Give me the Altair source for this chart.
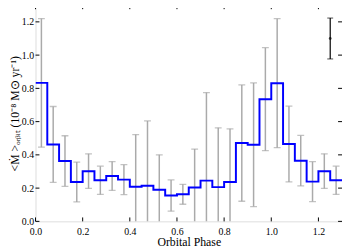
import altair as alt
import pandas as pd

# bin left edges (width 0.05) and bin centres
bin_left = [0.00, 0.05, 0.10, 0.15, 0.20, 0.25, 0.30, 0.35, 0.40, 0.45, 0.50, 0.55, 0.60,
            0.65, 0.70, 0.75, 0.80, 0.85, 0.90, 0.95, 1.00, 1.05, 1.10, 1.15, 1.20, 1.25]
bin_center = [0.025, 0.075, 0.125, 0.175, 0.225, 0.275, 0.325, 0.375, 0.425, 0.475, 0.525,
              0.575, 0.625, 0.675, 0.725, 0.775, 0.825, 0.875, 0.925, 0.975, 1.025, 1.075,
              1.125, 1.175, 1.225, 1.275]
mdot = [0.833, 0.463, 0.363, 0.237, 0.302, 0.247, 0.273, 0.251, 0.208, 0.214, 0.190, 0.155,
        0.163, 0.204, 0.245, 0.206, 0.237, 0.471, 0.461, 0.735, 0.831, 0.465, 0.365, 0.239,
        0.302, 0.247]
err = [0.387, 0.228, 0.152, 0.120, 0.104, 0.085, 0.087, 0.090, 0.314, 0.390, 0.210, 0.094,
       0.060, 0.231, 0.530, 0.357, 0.320, 0.350, 0.372, 0.310, 0.388, 0.228, 0.152, 0.120,
       0.104, 0.085]
x_end = 1.30

# typical error marker
typ_x = [1.25]
typ_y = [1.10]
typ_err = [0.123]

x_ticks = [0.0, 0.2, 0.4, 0.6, 0.8, 1.0, 1.2]
y_ticks = [0.0, 0.2, 0.4, 0.6, 0.8, 1.0, 1.2]

W, H = 312, 220
FONT = "Liberation Serif"

step_df = pd.DataFrame({"x": bin_left + [x_end], "y": mdot + [mdot[-1]]})
err_df = pd.DataFrame({
    "x": bin_center,
    "lo": [m - e for m, e in zip(mdot, err)],
    "hi": [m + e for m, e in zip(mdot, err)],
})
typ_df = pd.DataFrame({
    "x": typ_x, "y": typ_y,
    "lo": [a - b for a, b in zip(typ_y, typ_err)],
    "hi": [a + b for a, b in zip(typ_y, typ_err)],
})
xt_df = pd.DataFrame({"v": x_ticks})
yt_df = pd.DataFrame({"v": y_ticks})

xs = alt.Scale(domain=[0, 1.3], nice=False, zero=False)
ys = alt.Scale(domain=[0, 1.3], nice=False, zero=False)

xaxis = alt.Axis(values=x_ticks, format=".1f", tickSize=0, labelPadding=5,
                 labelOverlap=False, labelFlush=False,
                 title="Orbital Phase", titleFontSize=12, titleFontWeight="normal",
                 titlePadding=1, labelFontSize=10, grid=False, domain=False)
yaxis = alt.Axis(values=y_ticks, format=".1f", tickSize=0, labelPadding=2,
                 labelOverlap=False, labelFlush=False,
                 title="<Ṁ >ₒᵣᵦᵢₜ (10⁻⁸ M⊙ yr⁻¹)", titleFontSize=12,
                 titleFontWeight="normal", titlePadding=0, labelFontSize=10,
                 grid=False, domain=False)

err_color = "#aaaaaa"

def X(f):
    return alt.X(f, scale=xs, axis=xaxis)

def Y(f):
    return alt.Y(f, scale=ys, axis=yaxis)

bars = alt.Chart(err_df).mark_rule(color=err_color, strokeWidth=1.5, clip=True).encode(
    x=X("x:Q"), y=Y("lo:Q"), y2="hi:Q")
cap_lo = alt.Chart(err_df).mark_tick(color=err_color, orient="horizontal", size=7,
                                     thickness=1.3, clip=True).encode(x=X("x:Q"), y=Y("lo:Q"))
cap_hi = alt.Chart(err_df).mark_tick(color=err_color, orient="horizontal", size=7,
                                     thickness=1.3, clip=True).encode(x=X("x:Q"), y=Y("hi:Q"))

step = alt.Chart(step_df).mark_line(color="#0000ff", strokeWidth=2,
                                    interpolate="step-after", clip=True).encode(
    x=X("x:Q"), y=Y("y:Q"))

typ_bar = alt.Chart(typ_df).mark_rule(color="black", strokeWidth=1.2).encode(
    x=X("x:Q"), y=Y("lo:Q"), y2="hi:Q")
typ_caps_lo = alt.Chart(typ_df).mark_tick(color="black", orient="horizontal", size=6,
                                          thickness=1).encode(x=X("x:Q"), y=Y("lo:Q"))
typ_caps_hi = alt.Chart(typ_df).mark_tick(color="black", orient="horizontal", size=6,
                                          thickness=1).encode(x=X("x:Q"), y=Y("hi:Q"))
typ_pt = alt.Chart(typ_df).mark_point(color="black", filled=True, size=8).encode(
    x=X("x:Q"), y=Y("y:Q"))

# inward ticks on all four sides
tb = alt.Chart(xt_df).mark_rule(color="black", strokeWidth=1).encode(
    x=X("v:Q"), y=alt.value(H), y2=alt.value(H - 4))
tt = alt.Chart(xt_df).mark_rule(color="black", strokeWidth=1).encode(
    x=X("v:Q"), y=alt.value(0), y2=alt.value(4))
tl = alt.Chart(yt_df).mark_rule(color="black", strokeWidth=1).encode(
    y=Y("v:Q"), x=alt.value(0), x2=alt.value(4))
tr = alt.Chart(yt_df).mark_rule(color="black", strokeWidth=1).encode(
    y=Y("v:Q"), x=alt.value(W), x2=alt.value(W - 4))

chart = alt.layer(
    bars, cap_lo, cap_hi, step, typ_bar, typ_caps_lo, typ_caps_hi, typ_pt, tb, tt, tl, tr
).properties(
    width=W, height=H,
    autosize=alt.AutoSizeParams(type="none"),
    padding={"left": 28, "top": -5, "right": 0, "bottom": 30},
).configure_view(
    stroke="black", strokeWidth=1
).configure(
    font=FONT
).configure_axis(
    labelFont=FONT, titleFont=FONT, labelColor="black", titleColor="black",
    labelOverlap=False
)

chart.save("out.html", embed_options={"renderer": "svg", "actions": False})
